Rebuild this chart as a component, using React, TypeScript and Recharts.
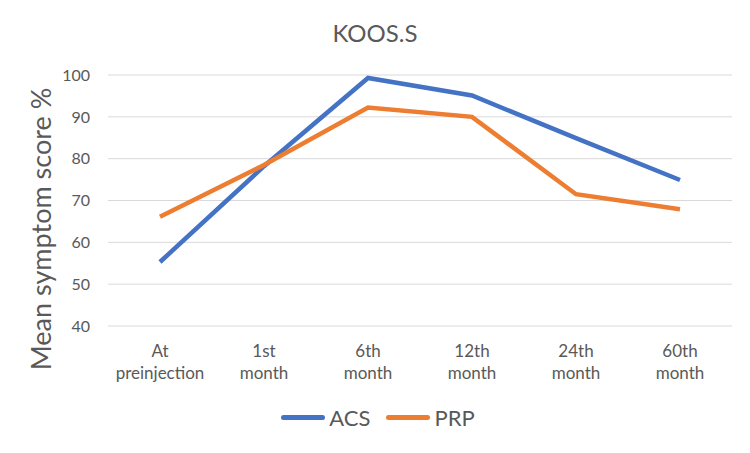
import { LineChart, Line, XAxis, YAxis, CartesianGrid, Legend } from 'recharts';

const categories = ['At\npreinjection', '1st\nmonth', '6th\nmonth', '12th\nmonth', '24th\nmonth', '60th\nmonth'];
const acs = [55.3, 78.2, 99.3, 95.1, 84.9, 74.9];
const prp = [66.1, 78.5, 92.2, 90.0, 71.5, 67.9];
const yTicks = [40, 50, 60, 70, 80, 90, 100];

const FONT = 'Lato, "Open Sans", sans-serif';
const TEXT = '#595959';

const data = categories.map((name, i) => ({ name, ACS: acs[i], PRP: prp[i] }));

function CategoryTick({ x, y, payload }: any) {
  const lines = String(payload.value).split('\n');
  return (
    <text x={x} y={y} textAnchor="middle" fill={TEXT} fontSize={17} fontFamily={FONT}>
      {lines.map((line, i) => (
        <tspan key={i} x={x} dy={i === 0 ? 31 : 22}>
          {line}
        </tspan>
      ))}
    </text>
  );
}

function LegendContent({ payload }: any) {
  return (
    <div style={{ display: 'flex', justifyContent: 'center', alignItems: 'center', gap: 16, fontFamily: FONT, paddingLeft: 6 }}>
      {(payload || []).map((p: any) => (
        <div key={p.value} style={{ display: 'flex', alignItems: 'center' }}>
          <span style={{ display: 'inline-block', width: 44, height: 5, borderRadius: 3, background: p.color, marginRight: 4 }} />
          <span style={{ fontSize: 22, color: TEXT }}>{p.value}</span>
        </div>
      ))}
    </div>
  );
}

export default function App() {
  return (
    <div style={{ position: 'absolute', left: 0, top: 0, width: 750, height: 453, background: '#fff' }}>
      <div
        style={{
          position: 'absolute',
          top: 18,
          left: 0,
          width: 750,
          textAlign: 'center',
          fontFamily: FONT,
          fontSize: 24,
          lineHeight: '30px',
          color: TEXT,
        }}
      >
        KOOS.S
      </div>
      <LineChart width={750} height={453} data={data} margin={{ top: 75, right: 18, bottom: 77, left: 0 }}>
        <CartesianGrid vertical={false} stroke="#d9d9d9" strokeWidth={1} />
        <XAxis
          dataKey="name"
          axisLine={false}
          tickLine={false}
          tickSize={0}
          tickMargin={0}
          height={50}
          interval={0}
          padding={{ left: 52, right: 52 }}
          tick={<CategoryTick />}
        />
        <YAxis
          width={108}
          domain={[40, 100]}
          ticks={yTicks}
          axisLine={false}
          tickLine={false}
          tickSize={0}
          tickMargin={18}
          tick={{ fill: TEXT, fontSize: 16, fontFamily: FONT }}
          label={{
            content: () => (
              <text
                x={40}
                y={229}
                transform="rotate(-90 40 229)"
                textAnchor="middle"
                dominantBaseline="central"
                fill={TEXT}
                fontSize={27}
                fontFamily={FONT}
              >
                Mean symptom score %
              </text>
            ),
          }}
        />
        <Legend
          verticalAlign="middle"
          align="center"
          layout="horizontal"
          wrapperStyle={{ top: 404, left: 0, width: 750 }}
          content={<LegendContent />}
        />
        <Line type="linear" dataKey="ACS" stroke="#4472C4" strokeWidth={4.5} dot={false} isAnimationActive={false} />
        <Line type="linear" dataKey="PRP" stroke="#ED7D31" strokeWidth={4.5} dot={false} isAnimationActive={false} />
      </LineChart>
    </div>
  );
}
